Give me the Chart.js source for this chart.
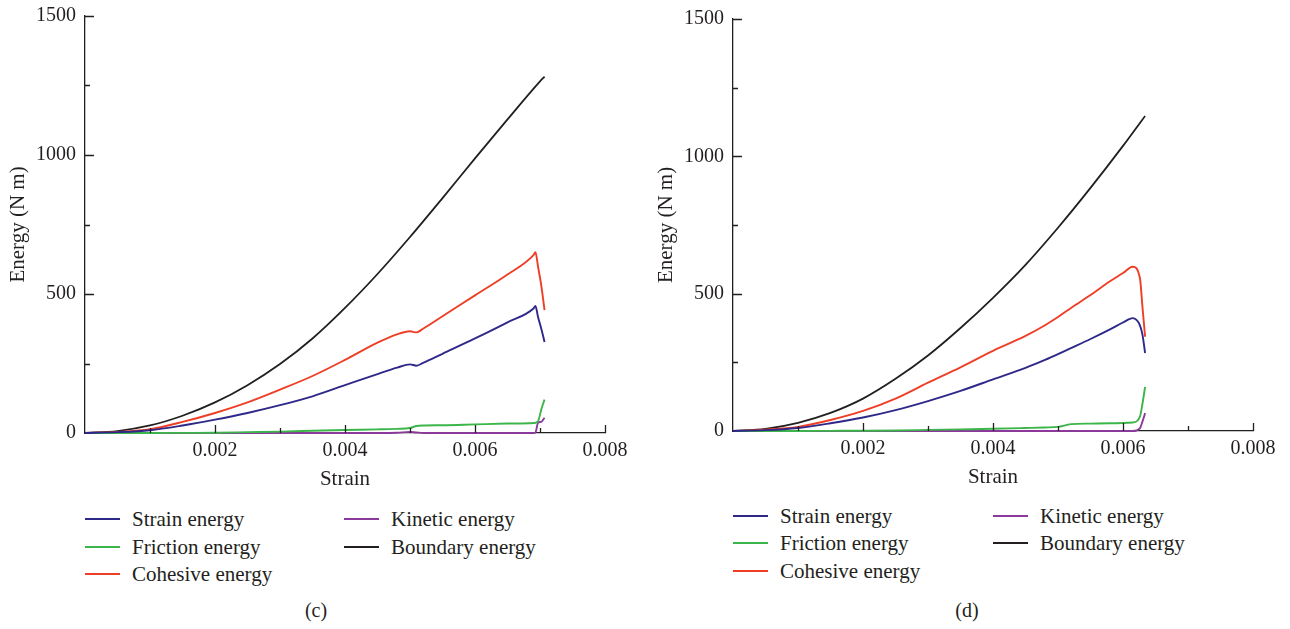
<!DOCTYPE html>
<html>
<head>
<meta charset="utf-8">
<script src="https://cdn.jsdelivr.net/npm/chart.js@4.4.1/dist/chart.umd.min.js"></script>
<style>
  body { margin: 0; width: 1290px; height: 629px; background: #fff; position: relative; overflow: hidden;
         font-family: "Liberation Serif", serif; color: #231f20; }
  .panel { position: absolute; top: 0; width: 640px; height: 500px; }
  .item { position: absolute; font-size: 21px; line-height: 24px; white-space: nowrap; padding-left: 47px; }
  .item .swatch { position: absolute; left: 0; top: 11px; width: 35px; height: 2px; }
  .caption { position: absolute; font-size: 20px; transform: translate(-50%, -50%); }
</style>
</head>
<body>
<div class="panel" style="left:0"><canvas id="chartC"></canvas></div>
<div class="panel" style="left:648px"><canvas id="chartD"></canvas></div>
<div id="legends"></div>
<div class="caption" style="left:316px; top:610px">(c)</div>
<div class="caption" style="left:967px; top:610px">(d)</div>
<script>
// ---- data ----
const seriesNames = ["Strain energy", "Friction energy", "Cohesive energy", "Kinetic energy", "Boundary energy"];
const seriesColors = ["#2e2889", "#3cb54a", "#ef3e26", "#8b3a9c", "#231f20"];

// panel (c)
const strainC = [0, 0.0005, 0.001, 0.0015, 0.002, 0.0025, 0.003, 0.0035, 0.004, 0.0045, 0.0048, 0.005, 0.0051, 0.0052,
                 0.0055, 0.006, 0.0065, 0.0069, 0.00693, 0.00697, 0.00702, 0.00707];
const strainEnergyC    = [0, 3, 10, 27, 48, 72, 100, 132, 172, 212, 235, 247, 242, 252, 285, 340, 398, 448, 457, 417, 375, 327];
const frictionEnergyC  = [0, 0, 0, 0.5, 1, 3, 5, 8, 11, 13, 15, 18, 25, 27, 28, 31, 34, 36, 37, 42, 85, 120];
const cohesiveEnergyC  = [0, 4, 14, 40, 72, 110, 156, 205, 263, 325, 355, 366, 362, 375, 420, 495, 570, 640, 650, 598, 530, 442];
const kineticEnergyC   = [0, 0, 0, 0, 0, 0, 0, 0, 0, 0, 1, 4, 2, 0, 0, 0, 0, 0, 2, 37, 40, 55];
const boundaryStrainC  = [0, 0.0005, 0.001, 0.0015, 0.002, 0.0025, 0.003, 0.0035, 0.004, 0.0045, 0.005, 0.0055, 0.006, 0.0065, 0.007, 0.00707];
const boundaryEnergyC  = [0, 7, 27, 62, 110, 172, 248, 340, 450, 572, 705, 845, 988, 1128, 1265, 1282];

// panel (d)
const strainD = [0, 0.0005, 0.001, 0.0015, 0.002, 0.0025, 0.003, 0.0035, 0.004, 0.0045, 0.0048, 0.005, 0.0052, 0.0055,
                 0.0058, 0.006, 0.00615, 0.00626, 0.0063, 0.00634];
const strainEnergyD    = [0, 3, 11, 28, 49, 76, 109, 146, 188, 230, 259, 280, 302, 335, 370, 395, 411, 385, 350, 284];
const frictionEnergyD  = [0, 0, 0, 0.5, 1, 2, 4, 6, 8, 11, 13, 15, 25, 27, 28, 29, 31, 52, 100, 161];
const cohesiveEnergyD  = [0, 5, 15, 40, 73, 118, 176, 232, 292, 346, 385, 415, 448, 495, 545, 575, 598, 557, 450, 343];
const kineticEnergyD   = [0, 0, 0, 0, 0, 0, 0, 0, 0, 0, 0, 0, 0, 0, 0, 0, 0, 10, 35, 65];
const boundaryStrainD  = [0, 0.0005, 0.001, 0.0015, 0.002, 0.0025, 0.003, 0.0035, 0.004, 0.0045, 0.005, 0.0055, 0.006, 0.00634];
const boundaryEnergyD  = [0, 8, 30, 66, 118, 190, 275, 375, 485, 605, 740, 885, 1038, 1147];

const xMax = 0.008;
const yMax = 1500;
const xTickStep = 0.001;
const yTickStep = 250;

const ink = "#231f20";
const font = { family: "'Liberation Serif', serif", size: 20 };

// inward tick marks, long at labelled values, short in between
const innerTicks = {
  id: "innerTicks",
  afterDatasetsDraw(chart) {
    const ctx = chart.ctx;
    const xs = chart.scales.x, ys = chart.scales.y;
    const area = chart.chartArea;
    ctx.save();
    ctx.strokeStyle = ink;
    ctx.lineWidth = 1.3;
    ctx.beginPath();
    xs.ticks.forEach((t, i) => {
      if (t.value === 0) return;
      const px = Math.round(xs.getPixelForValue(t.value)) + 0.5;
      const len = i % 2 === 0 ? 8 : 5;
      ctx.moveTo(px, area.bottom);
      ctx.lineTo(px, area.bottom - len);
    });
    ys.ticks.forEach((t, i) => {
      if (t.value === 0) return;
      const py = Math.round(ys.getPixelForValue(t.value)) + 0.5;
      const len = i % 2 === 0 ? 9 : 5;
      ctx.moveTo(area.left, py);
      ctx.lineTo(area.left + len, py);
    });
    ctx.stroke();
    ctx.restore();
  },
};

function series(xs, ys, k) {
  return {
    label: seriesNames[k],
    data: xs.map((s, i) => ({ x: s, y: ys[i] })),
    borderColor: seriesColors[k],
    borderWidth: k === 4 ? 1.8 : 1.9,
    pointRadius: 0,
    cubicInterpolationMode: "monotone",
    clip: false,
  };
}

function noPad(s) {
  s.paddingTop = 0; s.paddingBottom = 0; s.paddingLeft = 0; s.paddingRight = 0;
}

function makeChart(id, datasets, pad, xHeight) {
  return new Chart(document.getElementById(id), {
    type: "line",
    data: { datasets: datasets },
    plugins: [innerTicks],
    options: {
      responsive: true,
      maintainAspectRatio: false,
      animation: false,
      layout: { padding: pad },
      plugins: { legend: { display: false }, tooltip: { enabled: false } },
      scales: {
        x: {
          type: "linear",
          min: 0,
          max: xMax,
          grid: { display: false, drawTicks: false },
          border: { display: true, color: ink, width: 1.3 },
          ticks: {
            stepSize: xTickStep,
            color: ink,
            font: font,
            padding: 6,
            maxRotation: 0,
            autoSkip: false,
            callback: (v) => {
              const n = Math.round(v / xTickStep);
              return n > 0 && n % 2 === 0 ? (n * xTickStep).toFixed(3) : "";
            },
          },
          title: { display: true, text: "Strain", color: ink, font: { family: font.family, size: 21 }, padding: { top: 2, bottom: 0 } },
          afterFit: (s) => { s.height = xHeight; noPad(s); },
        },
        y: {
          min: 0,
          max: yMax,
          grid: { display: false, drawTicks: false },
          border: { display: true, color: ink, width: 1.3 },
          ticks: {
            stepSize: yTickStep,
            color: ink,
            font: font,
            padding: 9,
            autoSkip: false,
            callback: (v) => (v % 500 === 0 ? String(v) : ""),
          },
          title: { display: true, text: "Energy (N m)", color: ink, font: { family: font.family, size: 21 }, padding: { top: 6, bottom: 4 } },
          afterFit: (s) => { s.width = 85; noPad(s); },
        },
      },
    },
  });
}

makeChart("chartC", [
  series(strainC, strainEnergyC, 0),
  series(strainC, frictionEnergyC, 1),
  series(strainC, cohesiveEnergyC, 2),
  series(strainC, kineticEnergyC, 3),
  series(boundaryStrainC, boundaryEnergyC, 4),
], { top: 16, right: 35, left: 0, bottom: 8 }, 59);

makeChart("chartD", [
  series(strainD, strainEnergyD, 0),
  series(strainD, frictionEnergyD, 1),
  series(strainD, cohesiveEnergyD, 2),
  series(strainD, kineticEnergyD, 3),
  series(boundaryStrainD, boundaryEnergyD, 4),
], { top: 19, right: 35, left: 0, bottom: 10 }, 59);

// legends: two columns under each panel
const legendSpots = [
  { cols: [85, 344], rows: [519, 547, 574] },
  { cols: [733, 993], rows: [516, 543, 571] },
];
const legendOrder = [[0, 0, 0], [1, 0, 1], [2, 0, 2], [3, 1, 0], [4, 1, 1]];
const holder = document.getElementById("legends");
legendSpots.forEach((spot) => {
  legendOrder.forEach(([k, c, r]) => {
    const div = document.createElement("div");
    div.className = "item";
    div.style.left = spot.cols[c] + "px";
    div.style.top = spot.rows[r] - 12 + "px";
    const sw = document.createElement("span");
    sw.className = "swatch";
    sw.style.background = seriesColors[k];
    div.appendChild(sw);
    div.appendChild(document.createTextNode(seriesNames[k]));
    holder.appendChild(div);
  });
});
</script>
</body>
</html>
